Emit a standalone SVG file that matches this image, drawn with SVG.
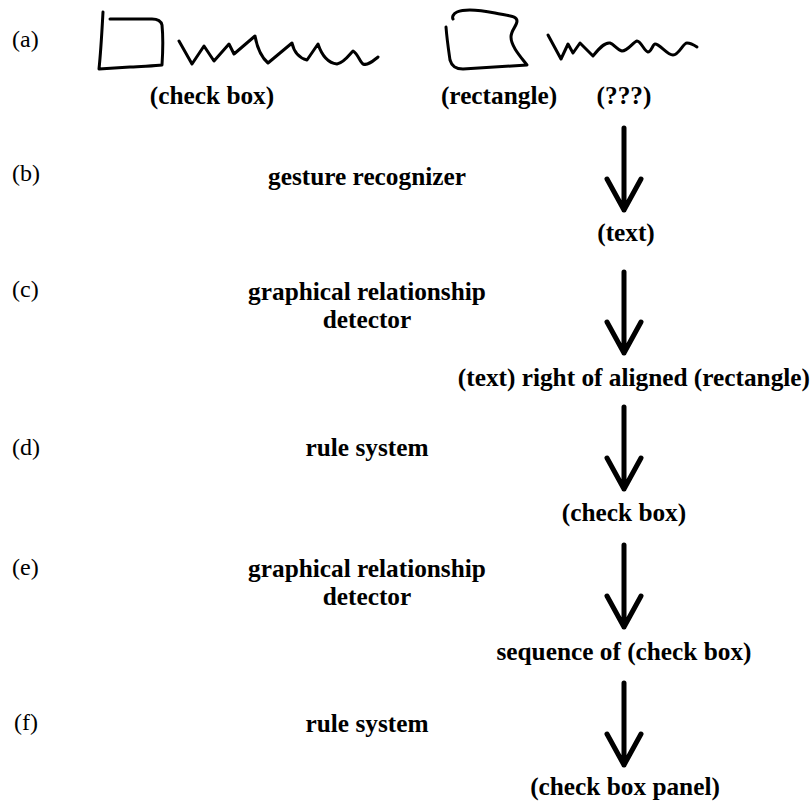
<svg xmlns="http://www.w3.org/2000/svg" width="812" height="805" viewBox="0 0 812 805">
<style>
text{font-family:'Liberation Serif','DejaVu Serif',serif;fill:#000}
.lbl{font-size:24px}
.b{font-size:25.3px;font-weight:bold}
.m{text-anchor:middle}
.ink{fill:none;stroke:#000;stroke-width:3;stroke-linecap:round;stroke-linejoin:round}
.arr{fill:none;stroke:#000;stroke-width:5;stroke-linecap:round;stroke-linejoin:round}
</style>
<rect width="812" height="805" fill="#fff"/>
<g id="row-labels">
<text class="lbl" x="12" y="47">(a)</text>
<text class="lbl" x="12" y="181">(b)</text>
<text class="lbl" x="12" y="297">(c)</text>
<text class="lbl" x="12" y="455">(d)</text>
<text class="lbl" x="12" y="575">(e)</text>
<text class="lbl" x="14" y="730">(f)</text>
</g>
<g id="sketch">
<path class="ink" d="M103,12 C102,30 101,50 99,69 L130,67 C145,66 155,66 162,65 C163,50 163,35 162,25 C161,21 158,19 152,19 L110,19"/>
<path class="ink" d="M179,41 L192,64 L204,46 L214,61 L229,44 L234,54 L255,36 C257,47 260,56 268,63 L292,43 C294,52 299,58 307,60 L318,44 C322,56 328,63 337,64 C344,63 349,55 353,51 C358,54 360,62 363,64 C368,66 373,61 378,57"/>
<path class="ink" d="M446,27 C447,40 449,53 450,60 C452,67 456,69 463,69 L527,65 C520,56 511,46 511,37 C511,30 517,26 517,21 C517,16 510,16 495,13 C480,10 466,8 457,12 C453,14 452,17 453,19"/>
<path class="ink" d="M548,35 L561,59 L568,44 L573,53 L580,43 L593,56 C598,50 604,42 610,43 C614,44 617,50 622,51 C628,51 633,42 637,41 C641,41 644,51 648,52 C651,52 653,44 655,44 C660,44 667,55 673,55 C679,55 683,43 687,43 C690,43 694,45 697,47"/>
</g>
<g id="sketch-labels">
<text class="b m" x="212" y="104">(check box)</text>
<text class="b m" x="499" y="104">(rectangle)</text>
<text class="b m" x="624" y="104">(???)</text>
</g>
<g id="stage-labels">
<text class="b m" x="367" y="185">gesture recognizer</text>
<text class="b m" x="367" y="300">graphical relationship</text>
<text class="b m" x="367" y="328">detector</text>
<text class="b m" x="367" y="456">rule system</text>
<text class="b m" x="367" y="577">graphical relationship</text>
<text class="b m" x="367" y="605">detector</text>
<text class="b m" x="367" y="732">rule system</text>
</g>
<g id="results">
<text class="b m" x="626" y="241">(text)</text>
<text class="b" x="810" y="386" text-anchor="end">(text) right of aligned (rectangle)</text>
<text class="b m" x="624" y="521">(check box)</text>
<text class="b m" x="624" y="660">sequence of (check box)</text>
<text class="b m" x="625" y="795">(check box panel)</text>
</g>
<g id="connectors">
<path class="arr" d="M624,128 V210 M607,179 L624,210 L641,179"/>
<path class="arr" d="M624,272 V353 M607,322 L624,353 L641,322"/>
<path class="arr" d="M624,407 V489 M607,458 L624,489 L641,458"/>
<path class="arr" d="M624,545 V627 M607,596 L624,627 L641,596"/>
<path class="arr" d="M624,683 V765 M607,734 L624,765 L641,734"/>
</g>
</svg>
